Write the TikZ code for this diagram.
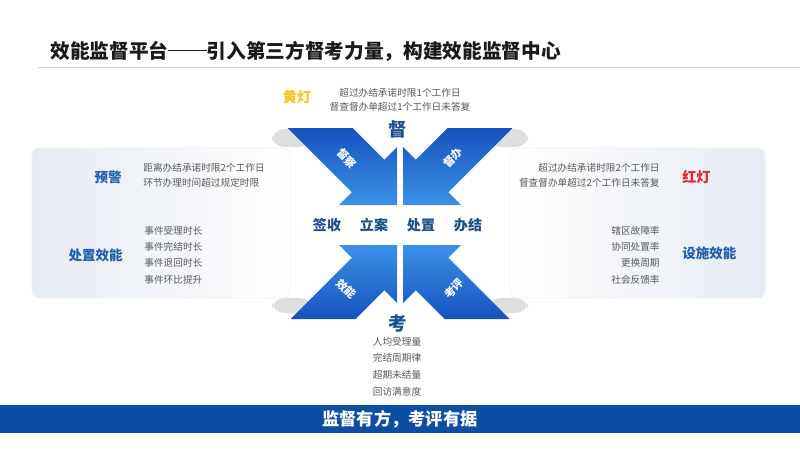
\documentclass[tikz,border=0pt]{standalone}
\usepackage{fontspec}
\setmainfont{Noto Sans CJK SC}
\definecolor{titlecol}{HTML}{1A1A1A}
\definecolor{darkblue}{HTML}{1B4F8E}
\definecolor{lblue}{HTML}{1F5FAE}
\definecolor{txtgray}{HTML}{595959}
\definecolor{arrowdark}{HTML}{1652BE}
\definecolor{arrowlight}{HTML}{3A92E6}
\definecolor{barblue}{HTML}{0B4EA3}
\definecolor{gold}{HTML}{F4C520}
\definecolor{lampred}{HTML}{E1262D}
\definecolor{panelgray}{HTML}{E6EBF3}
\definecolor{cornergray}{HTML}{DEDEDE}
\tikzset{
  titletext/.style={font=\fontsize{11.2}{12}\selectfont\bfseries, text=titlecol, inner sep=0pt},
  small/.style={font=\fontsize{5.5}{6}\selectfont, text=txtgray, inner sep=0pt},
  keyword/.style={font=\fontsize{7.7}{8}\selectfont\bfseries, text=lblue, inner sep=0pt},
  lamp/.style={font=\fontsize{8}{9}\selectfont\bfseries, inner sep=0pt},
  stage/.style={font=\fontsize{8}{9}\selectfont\bfseries, text=darkblue, inner sep=0pt},
  bigchar/.style={font=\fontsize{10.5}{11}\selectfont\bfseries, text=darkblue, inner sep=0pt},
  onarrow/.style={font=\fontsize{6.3}{7}\selectfont\bfseries, text=white, inner sep=0pt},
  toparrow/.style={top color=arrowdark, bottom color=arrowlight, draw=none},
  botarrow/.style={top color=arrowlight, bottom color=arrowdark, draw=none},
  panelbox/.style={draw=gray!12, rounded corners=4pt},
  cornerpatch/.style={fill=cornergray, rounded corners=7pt},
}
\begin{document}
\begin{tikzpicture}[x=0.02cm, y=-0.02cm]
\useasboundingbox[fill=white] (0,0) rectangle (800,450);

% title
\node[titletext, anchor=west] (title) at (50,51) {效能监督平台\rule[0.36em]{1.95em}{0.075em}引入第三方督考力量，构建效能监督中心};
\coordinate (rulel) at (38,67);
\coordinate (ruler) at (800,67);
\draw[gray!35, line width=0.4pt] (rulel) -- (ruler);

% side panels
\path[panelbox, left color=panelgray, right color=white] (32,148) rectangle (290,298);
\path[panelbox, left color=white, right color=panelgray] (510,148) rectangle (765,298);

% gray corner patches
\path[cornerpatch] (272,129) rectangle (312,147);
\path[cornerpatch] (488,129) rectangle (528,147);
\path[cornerpatch] (272,298) rectangle (312,313);
\path[cornerpatch] (488,298) rectangle (528,313);

% four arrows
\path[toparrow] (287.5,128) -- (352.5,128) -- (384.25,159.75) -- (397,147) -- (397,205) -- (339,205) -- (351.75,192.25) -- cycle;
\path[toparrow] (512.5,128) -- (447.5,128) -- (415.75,159.75) -- (403,147) -- (403,205) -- (461,205) -- (448.25,192.25) -- cycle;
\path[botarrow] (290.5,319) -- (355.5,319) -- (384.25,290.25) -- (397,303) -- (397,245) -- (339,245) -- (351.75,257.75) -- cycle;
\path[botarrow] (509.5,319) -- (444.5,319) -- (415.75,290.25) -- (403,303) -- (403,245) -- (461,245) -- (448.25,257.75) -- cycle;

% arrow labels
\node[onarrow, rotate=-45] (ducha) at (347,158) {督察};
\node[onarrow, rotate=45] (duban) at (453,158) {督办};
\node[onarrow, rotate=-45] (xiaoneng) at (346,289) {效能};
\node[onarrow, rotate=45] (kaoping) at (454,289) {考评};

% top block
\node[lamp, text=gold] (yellow) at (297,97) {黄灯};
\node[small] (y1) at (400,93) {超过办结承诺时限1个工作日};
\node[small] (y2) at (400,107) {督查督办单超过1个工作日未答复};
\node[bigchar] (du) at (398,129) {督};

% center stages
\node[stage] (qianshou) at (327,225) {签收};
\node[stage] (lian) at (374,225) {立案};
\node[stage] (chuzhi) at (421,225) {处置};
\node[stage] (banjie) at (468,225) {办结};

% bottom block
\node[bigchar] (kao) at (398,323) {考};
\node[small] (k1) at (397,342) {人均受理量};
\node[small] (k2) at (397,358) {完结周期律};
\node[small] (k3) at (397,375) {超期未结量};
\node[small] (k4) at (397,392) {回访满意度};

% left panel
\node[keyword, anchor=east] (yujing) at (122,177) {预警};
\node[small, anchor=west] (l1) at (143,168) {距离办结承诺时限2个工作日};
\node[small, anchor=west] (l2) at (143,183) {环节办理时间超过规定时限};
\node[keyword, anchor=east] (czxn) at (123,255) {处置效能};
\node[small, anchor=west] (l3) at (144,231) {事件受理时长};
\node[small, anchor=west] (l4) at (144,247) {事件完结时长};
\node[small, anchor=west] (l5) at (144,263) {事件退回时长};
\node[small, anchor=west] (l6) at (144,280) {事件环比提升};

% right panel
\node[small, anchor=east] (r1) at (660,168) {超过办结承诺时限2个工作日};
\node[small, anchor=east] (r2) at (660,183) {督查督办单超过2个工作日未答复};
\node[lamp, text=lampred, anchor=west] (red) at (682,177) {红灯};
\node[small, anchor=east] (r3) at (660,231) {辖区故障率};
\node[small, anchor=east] (r4) at (660,247) {协同处置率};
\node[small, anchor=east] (r5) at (660,263) {更换周期};
\node[small, anchor=east] (r6) at (660,280) {社会反馈率};
\node[keyword, anchor=west] (ssxn) at (682,253) {设施效能};

% bottom bar
\path[fill=barblue] (0,405) rectangle (800,433);
\node[font=\fontsize{9.8}{10}\selectfont\bfseries, text=white, inner sep=0pt] (slogan) at (400,419) {监督有方，考评有据};
\end{tikzpicture}
\end{document}
